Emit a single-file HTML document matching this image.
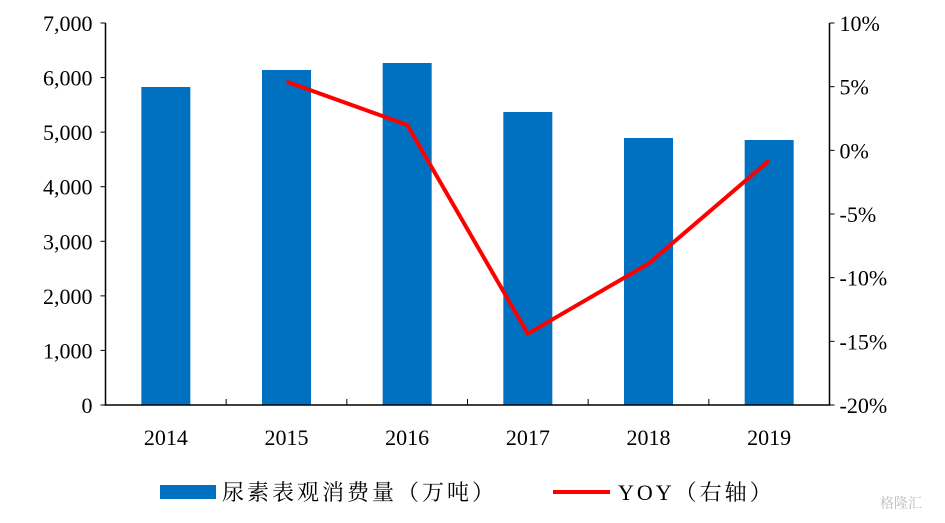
<!DOCTYPE html>
<html><head><meta charset="utf-8"><style>
body{margin:0;background:#fff;}
svg text{font-family:"Liberation Serif","Noto Serif CJK SC",serif;fill:#000;}
</style></head><body>
<svg id="c" width="945" height="518"></svg>
<script>
const categories=["2014","2015","2016","2017","2018","2019"];
const consumption=[5827,6139,6267,5369,4893,4856];
const yoy=[null,5.4,2.0,-14.4,-8.9,-0.8];
const leftTicks=[0,1000,2000,3000,4000,5000,6000,7000];
const leftTickLabels=["0","1,000","2,000","3,000","4,000","5,000","6,000","7,000"];
const rightTicks=[-20,-15,-10,-5,0,5,10];
const rightTickLabels=["-20%","-15%","-10%","-5%","0%","5%","10%"];
const svg=document.getElementById('c');
const NS='http://www.w3.org/2000/svg';
const L=105.5,R=829.5,T=23,B=405;
const bw=(R-L)/categories.length;
const yL=v=>B-(v/7000)*(B-T);
const yR=v=>B-((v+20)/30)*(B-T);
const xC=i=>L+bw*(i+0.5);
function mk(tag,attrs,name,text){const e=document.createElementNS(NS,tag);for(const k in attrs)e.setAttribute(k,attrs[k]);


if(text!==undefined)e.textContent=text;svg.appendChild(e);return e;}
consumption.forEach((v,i)=>{mk('rect',{x:xC(i)-24.5,y:yL(v),width:49,height:B-yL(v),fill:'#0070C0'},'bar-'+categories[i]);});
mk('line',{x1:L,y1:T,x2:L,y2:B,stroke:'#000','stroke-width':1.5},'left-axis');
mk('line',{x1:R,y1:T,x2:R,y2:B,stroke:'#000','stroke-width':1.5},'right-axis');
mk('line',{x1:L-1,y1:B,x2:R+1,y2:B,stroke:'#000','stroke-width':1.5},'x-axis');
leftTicks.forEach((v,i)=>{mk('line',{x1:L-5,y1:yL(v),x2:L,y2:yL(v),stroke:'#000'},'left-tick');
mk('text',{x:L-13,y:yL(v)+8,'font-size':22,'text-anchor':'end'},'left-tick-label',leftTickLabels[i]);});
rightTicks.forEach((v,i)=>{mk('line',{x1:R,y1:yR(v),x2:R+5,y2:yR(v),stroke:'#000'},'right-tick');
mk('text',{x:R+10,y:yR(v)+8,'font-size':22},'right-tick-label',rightTickLabels[i]);});
for(let i=1;i<categories.length;i++)mk('line',{x1:L+bw*i,y1:B-6,x2:L+bw*i,y2:B,stroke:'#000'},'x-tick');
categories.forEach((c,i)=>mk('text',{x:xC(i),y:445,'font-size':22,'text-anchor':'middle'},'x-tick-label',c));
let pts=[];yoy.forEach((v,i)=>{if(v!==null)pts.push(xC(i)+','+yR(v));});
mk('polyline',{points:pts.join(' '),fill:'none',stroke:'#FF0000','stroke-width':4,'stroke-linejoin':'round'},'yoy-line');
mk('rect',{x:160,y:485,width:56,height:14,fill:'#0070C0'},'legend-bar-swatch');
mk('text',{x:222,y:500,'font-size':22,'letter-spacing':'3'},'legend-bar-label','尿素表观消费量（万吨）');
mk('line',{x1:553,y1:492,x2:610,y2:492,stroke:'#FF0000','stroke-width':4},'legend-line-swatch');
mk('text',{x:618,y:500,'font-size':22,'letter-spacing':'3'},'legend-line-label','YOY（右轴）');
mk('text',{x:880,y:508,'font-size':14,fill:'#bbb','style':'fill:#bbb'},'watermark','格隆汇');
</script>
</body></html>
